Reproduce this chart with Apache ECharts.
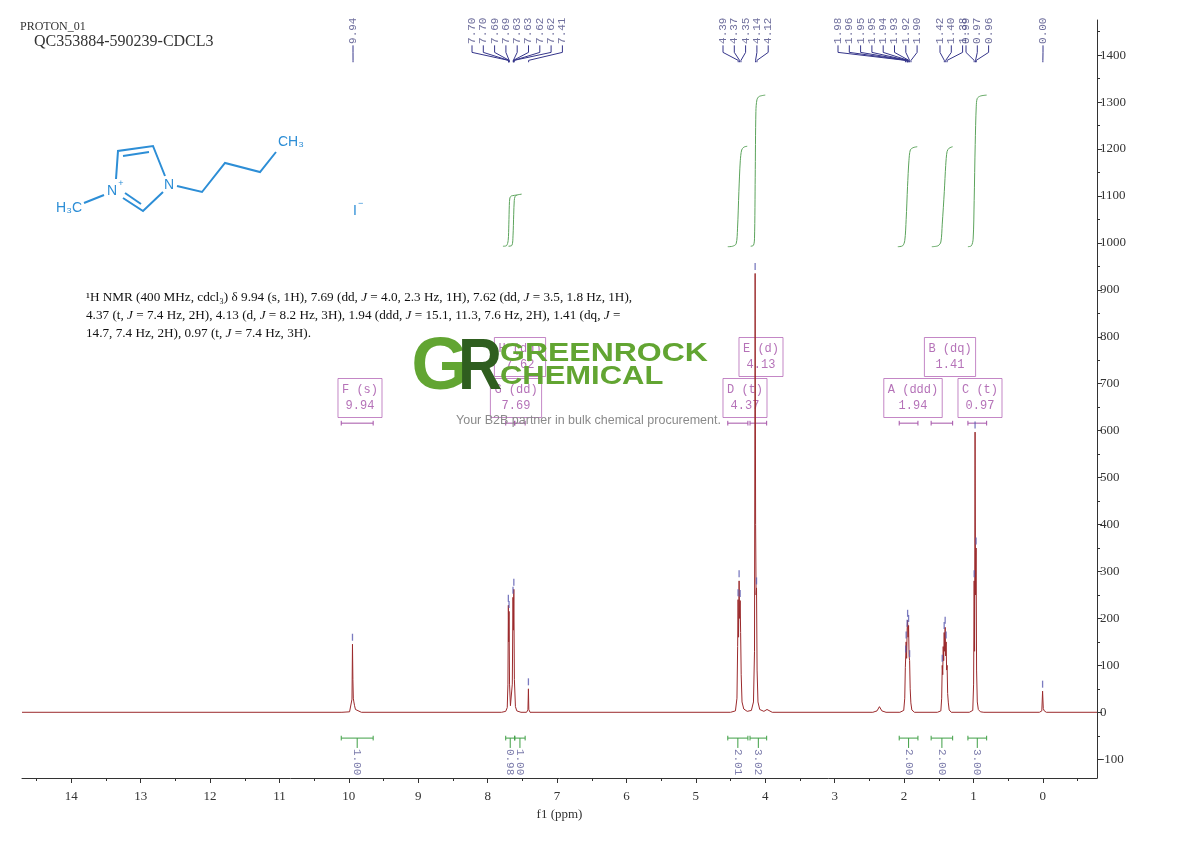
<!DOCTYPE html>
<html><head><meta charset="utf-8">
<script src="https://cdn.jsdelivr.net/npm/echarts@6/dist/echarts.min.js"></script>
<style>html,body{margin:0;padding:0;background:#fff}#c{width:1190px;height:841px}</style>
</head><body><div id="c"></div>
<script>
// ---------------- DATA ----------------
const xTickValues = [0,1,2,3,4,5,6,7,8,9,10,11,12,13,14];
const xMinorTickValues = [-0.5,0.5,1.5,2.5,3.5,4.5,5.5,6.5,7.5,8.5,9.5,10.5,11.5,12.5,13.5,14.5];
const yTickValues = [-100,0,100,200,300,400,500,600,700,800,900,1000,1100,1200,1300,1400];
const yMinorTickValues = [-50,50,150,250,350,450,550,650,750,850,950,1050,1150,1250,1350,1450];

// spectrum trace [ppm, intensity]
const spectrum = [
 [14.71,0],[10.10,0],[9.99,1],[9.965,5],[9.955,28],[9.948,145],[9.942,70],[9.936,30],[9.928,22],[9.918,14],[9.905,6],[9.88,2],[9.82,0],
 [7.80,0],[7.74,2],[7.718,10],[7.708,60],[7.702,228],[7.697,150],[7.692,215],[7.685,60],[7.672,14],[7.66,14],[7.645,60],[7.635,245],[7.629,175],[7.623,262],[7.615,70],[7.60,12],[7.58,3],[7.52,0],
 [7.44,0],[7.42,5],[7.413,50],[7.407,6],[7.39,0],
 [4.50,0],[4.43,3],[4.408,30],[4.398,140],[4.392,240],[4.385,160],[4.377,280],[4.37,200],[4.362,238],[4.355,170],[4.347,80],[4.335,22],[4.31,7],[4.26,2],[4.20,4],[4.17,22],[4.155,130],[4.146,935],[4.139,400],[4.132,250],[4.126,265],[4.118,90],[4.105,22],[4.08,6],[4.02,2],[3.975,6],[3.96,2],[3.90,0],
 [2.45,0],[2.39,3],[2.355,12],[2.32,3],[2.26,0],
 [2.06,0],[2.005,4],[1.99,30],[1.982,95],[1.976,120],[1.97,150],[1.963,115],[1.956,175],[1.949,196],[1.942,160],[1.935,185],[1.928,120],[1.92,110],[1.912,50],[1.902,20],[1.888,5],[1.85,0],
 [1.52,0],[1.47,3],[1.458,30],[1.45,100],[1.443,80],[1.436,140],[1.429,110],[1.422,170],[1.415,130],[1.408,181],[1.401,120],[1.394,150],[1.387,90],[1.38,100],[1.372,40],[1.362,20],[1.35,5],[1.32,0],
 [1.06,0],[1.01,4],[0.998,60],[0.99,280],[0.984,130],[0.977,597],[0.97,250],[0.962,350],[0.955,90],[0.945,22],[0.93,6],[0.90,1],[0.85,0],
 [0.05,0],[0.015,3],[0.004,45],[-0.006,8],[-0.02,3],[-0.05,0],[-0.78,0]
];

// picked peak tops (markers)
const pickMarkers = [[9.948,145],[7.702,228],[7.692,215],[7.635,245],[7.623,262],[7.413,50],
 [4.392,240],[4.377,280],[4.362,238],[4.146,935],[4.126,265],
 [1.976,120],[1.97,150],[1.956,175],[1.949,196],[1.935,185],[1.92,110],
 [1.45,100],[1.422,170],[1.408,181],[1.394,150],[0.99,280],[0.977,597],[0.962,350],[0.004,45]];

// peak-pick label groups (ppm)
const pickGroup1 = [9.94];
const pickGroup2 = [7.70,7.70,7.69,7.69,7.63,7.63,7.62,7.62,7.41];
const pickGroup3 = [4.39,4.37,4.35,4.14,4.12];
const pickGroup4 = [1.98,1.96,1.95,1.95,1.94,1.93,1.92,1.90];
const pickGroup5 = [1.42,1.40,1.38];
const pickGroup6 = [0.99,0.97,0.96];
const pickGroup7 = [0.00];

// integral curves [ppm, offset value]
const integral769 = [[7.78,993],[7.73,994],[7.705,1005],[7.695,1040],[7.688,1080],[7.68,1096],[7.66,1100],[7.58,1102]];
const integral762 = [[7.70,993],[7.65,995],[7.635,1015],[7.625,1060],[7.617,1090],[7.605,1099],[7.58,1102],[7.51,1104]];
const integral437 = [[4.54,992],[4.47,993],[4.42,998],[4.40,1030],[4.38,1110],[4.36,1175],[4.34,1198],[4.31,1204],[4.26,1206]];
const integral413 = [[4.21,993],[4.17,995],[4.155,1010],[4.145,1140],[4.135,1280],[4.12,1305],[4.09,1312],[4.00,1315]];
const integral194 = [[2.09,992],[2.02,994],[1.99,1005],[1.97,1050],[1.95,1120],[1.93,1175],[1.91,1198],[1.87,1203],[1.81,1205]];
const integral141 = [[1.60,992],[1.51,994],[1.47,1002],[1.45,1040],[1.42,1110],[1.40,1165],[1.38,1195],[1.35,1202],[1.30,1205]];
const integral097 = [[1.08,992],[1.03,994],[1.005,1008],[0.99,1090],[0.975,1210],[0.96,1290],[0.945,1308],[0.90,1313],[0.81,1315]];

// integration ranges and values
const integrationRanges = [[10.11,9.65],[7.74,7.61],[7.61,7.46],[4.54,4.25],[4.22,3.98],[2.07,1.80],[1.61,1.30],[1.08,0.81]];
const integrationValues = ['1.00','0.98','1.00','2.01','3.02','2.00','2.00','3.00'];

// multiplet annotations
const multipletLetters = ['F','G','H','D','E','A','B','C'];
const multipletTypes = ['s','dd','dd','t','d','ddd','dq','t'];
const multipletShifts = ['9.94','7.69','7.62','4.37','4.13','1.94','1.41','0.97'];

// ---------------- LAYOUT ----------------
const X_MIN=-0.78, X_MAX=14.71, Y_MIN=-140, Y_MAX=1475;
const G_L=22, G_R=93, G_T=20, G_B=63, W=1190, H=841;
const GW=W-G_L-G_R, GH=H-G_T-G_B;
const px2ppm = px => X_MAX - (px-G_L)*(X_MAX-X_MIN)/GW;
const py2val = py => Y_MAX - (py-G_T)*(Y_MAX-Y_MIN)/GH;

const pickGroups = [pickGroup1,pickGroup2,pickGroup3,pickGroup4,pickGroup5,pickGroup6,pickGroup7];
const groupStartPx = [353,472,723,838,940,966,1043];
const labelStepPx = 11.3;
const multipletBoxPx = [[360,398],[516,398],[520,357],[745,398],[761,357],[913,398],[950,357],[980,398]];

const treeLines=[], topLabels=[];
pickGroups.forEach((g,gi)=>{
  g.forEach((p,i)=>{
    const lx = px2ppm(groupStartPx[gi] + i*labelStepPx);
    topLabels.push({value:[lx,1424], name:p.toFixed(2)});
    treeLines.push({coords:[[lx,1421],[lx,1406],[p,1389],[p,1385]]});
  });
});

const bracketLines=[], purpleBars=[], intLabels=[];
integrationRanges.forEach((r,i)=>{
  const c=(r[0]+r[1])/2;
  bracketLines.push({coords:[[r[0],-55],[r[1],-55]]});
  bracketLines.push({coords:[[r[0],-50],[r[0],-60]]});
  bracketLines.push({coords:[[r[1],-50],[r[1],-60]]});
  bracketLines.push({coords:[[c,-55],[c,-76]]});
  intLabels.push({value:[c,-78], name:integrationValues[i]});
  purpleBars.push({coords:[[r[0],616],[r[1],616]]});
  purpleBars.push({coords:[[r[0],611],[r[0],621]]});
  purpleBars.push({coords:[[r[1],611],[r[1],621]]});
});

const boxes = multipletLetters.map((l,i)=>({
  value:[px2ppm(multipletBoxPx[i][0]), py2val(multipletBoxPx[i][1])],
  name: l+' ('+multipletTypes[i]+')\n'+multipletShifts[i]
}));

const integralCurves=[integral769,integral762,integral437,integral413,integral194,integral141,integral097];

const SERIF='"Liberation Serif","DejaVu Serif",serif';
const MONO='"Liberation Mono","DejaVu Sans Mono",monospace';
const BLUE='#2d8ed6';

const series=[];
series.push({type:'scatter', data:boxes, symbolSize:1, itemStyle:{color:'rgba(0,0,0,0)'}, z:2, silent:true,
  label:{show:true, position:'inside', formatter:'{b}', color:'#a24fa6', fontFamily:MONO, fontSize:12, lineHeight:16,
    borderColor:'#b569b8', borderWidth:1, padding:[4,4,3,4], align:'center', verticalAlign:'middle'}});
series.push({type:'lines', coordinateSystem:'cartesian2d', polyline:true, data:purpleBars, z:2, silent:true,
  lineStyle:{color:'#a552a8', width:1, opacity:1}});
integralCurves.forEach(d=>series.push({type:'line', data:d, showSymbol:false, smooth:0.3, z:3, silent:true,
  lineStyle:{color:'#5ba35b', width:1}}));
series.push({type:'lines', coordinateSystem:'cartesian2d', polyline:true, data:bracketLines, z:3, silent:true,
  lineStyle:{color:'#3f9f45', width:1, opacity:1}});
series.push({type:'scatter', data:intLabels, symbolSize:1, itemStyle:{color:'rgba(0,0,0,0)'}, silent:true,
  label:{show:true, position:'inside', formatter:'{b}', rotate:-90, align:'left', verticalAlign:'middle',
    color:'#5a5a96', fontFamily:MONO, fontSize:11}});
series.push({type:'lines', coordinateSystem:'cartesian2d', polyline:true, data:treeLines, z:3, silent:true,
  lineStyle:{color:'#35358a', width:1, opacity:1}});
series.push({type:'scatter', data:topLabels, symbolSize:1, itemStyle:{color:'rgba(0,0,0,0)'}, silent:true,
  label:{show:true, position:'inside', formatter:'{b}', rotate:90, align:'left', verticalAlign:'middle',
    color:'#4b4b85', fontFamily:MONO, fontSize:11}});
series.push({type:'line', data:spectrum, showSymbol:false, z:5, silent:true,
  lineStyle:{color:'#9b2a2c', width:1}});
series.push({type:'scatter', data:pickMarkers, symbol:'rect', symbolSize:[1.3,7], symbolOffset:[0,-7], z:6, silent:true,
  itemStyle:{color:'#5a5ab0'}});

const axisLineStyle={color:'#333', width:1};
const plain = v => String(Math.round(v));
const option={
  animation:false,
  grid:{left:G_L, right:G_R, top:G_T, bottom:G_B},
  xAxis:[
    {type:'value', min:X_MIN, max:X_MAX, inverse:true, position:'bottom', offset:0,
     axisLine:{show:true, onZero:false, lineStyle:axisLineStyle},
     axisTick:{show:true, customValues:xTickValues, length:5, lineStyle:axisLineStyle},
     axisLabel:{show:true, customValues:xTickValues, formatter:plain, color:'#333', fontFamily:SERIF, fontSize:13, margin:12},
     splitLine:{show:false},
     name:'f1 (ppm)', nameLocation:'middle', nameGap:27, nameTextStyle:{color:'#333', fontFamily:SERIF, fontSize:13}},
    {type:'value', min:X_MIN, max:X_MAX, inverse:true, position:'bottom', offset:0,
     axisLine:{show:false, onZero:false},
     axisTick:{show:true, customValues:xMinorTickValues, length:3, lineStyle:axisLineStyle},
     axisLabel:{show:false}, splitLine:{show:false}}
  ],
  yAxis:[
    {type:'value', min:Y_MIN, max:Y_MAX, position:'right', offset:0,
     axisLine:{show:true, onZero:false, lineStyle:axisLineStyle},
     axisTick:{show:true, customValues:yTickValues, length:5, lineStyle:axisLineStyle},
     axisLabel:{show:true, customValues:yTickValues, formatter:plain, color:'#333', fontFamily:SERIF, fontSize:13, margin:3},
     splitLine:{show:false}},
    {type:'value', min:Y_MIN, max:Y_MAX, position:'right', offset:0,
     axisLine:{show:false, onZero:false},
     axisTick:{show:true, customValues:yMinorTickValues, length:3, lineStyle:axisLineStyle},
     axisLabel:{show:false}, splitLine:{show:false}}
  ],
  series:series,
  graphic:[
    {type:'text', x:20, y:27, style:{text:'PROTON_01', font:'12px '+SERIF, fill:'#333', textAlign:'left', textVerticalAlign:'middle', align:'left', verticalAlign:'middle'}},
    {type:'text', x:34, y:42, style:{text:'QC353884-590239-CDCL3', font:'16px '+SERIF, fill:'#333', textAlign:'left', textVerticalAlign:'middle', align:'left', verticalAlign:'middle'}},
    // molecule
    {type:'polyline', shape:{points:[[116,179],[118,151],[153,146],[165,176]]}, style:{stroke:BLUE, lineWidth:2, fill:null}},
    {type:'polyline', shape:{points:[[123,156],[149,152]]}, style:{stroke:BLUE, lineWidth:2, fill:null}},
    {type:'polyline', shape:{points:[[163,192],[143,211],[123,198]]}, style:{stroke:BLUE, lineWidth:2, fill:null}},
    {type:'polyline', shape:{points:[[141,204],[125,193]]}, style:{stroke:BLUE, lineWidth:2, fill:null}},
    {type:'polyline', shape:{points:[[84,203],[104,195]]}, style:{stroke:BLUE, lineWidth:2, fill:null}},
    {type:'polyline', shape:{points:[[177,186],[202,192],[225,163],[260,172],[276,152]]}, style:{stroke:BLUE, lineWidth:2, fill:null}},
    {type:'text', x:169, y:185, style:{text:'N', font:'14px "Liberation Sans",Arial,sans-serif', fill:BLUE, textAlign:'center', textVerticalAlign:'middle', align:'center', verticalAlign:'middle'}},
    {type:'text', x:112, y:191, style:{text:'N', font:'14px "Liberation Sans",Arial,sans-serif', fill:BLUE, textAlign:'center', textVerticalAlign:'middle', align:'center', verticalAlign:'middle'}},
    {type:'text', x:121, y:184, style:{text:'+', font:'9px "Liberation Sans",Arial,sans-serif', fill:BLUE, textAlign:'center', textVerticalAlign:'middle', align:'center', verticalAlign:'middle'}},
    {type:'text', x:82, y:208, style:{text:'H₃C', font:'14px "Liberation Sans",Arial,sans-serif', fill:BLUE, textAlign:'right', textVerticalAlign:'middle', align:'right', verticalAlign:'middle'}},
    {type:'text', x:278, y:142, style:{text:'CH₃', font:'14px "Liberation Sans",Arial,sans-serif', fill:BLUE, textAlign:'left', textVerticalAlign:'middle', align:'left', verticalAlign:'middle'}},
    {type:'text', x:353, y:211, style:{text:'I', font:'14px "Liberation Sans",Arial,sans-serif', fill:BLUE, textAlign:'left', textVerticalAlign:'middle', align:'left', verticalAlign:'middle'}},
    {type:'text', x:358, y:204, style:{text:'−', font:'9px "Liberation Sans",Arial,sans-serif', fill:BLUE, textAlign:'left', textVerticalAlign:'middle', align:'left', verticalAlign:'middle'}},
    // description
    {type:'text', x:86, y:298, style:{text:'¹H NMR (400 MHz, cdcl₃) δ 9.94 (s, 1H), 7.69 (dd, {i|J} = 4.0, 2.3 Hz, 1H), 7.62 (dd, {i|J} = 3.5, 1.8 Hz, 1H),', font:'13.2px '+SERIF, fill:'#111', rich:{i:{fontStyle:'italic', fontFamily:SERIF, fontSize:13.2, fill:'#111'}}, textAlign:'left', textVerticalAlign:'middle', align:'left', verticalAlign:'middle'}},
    {type:'text', x:86, y:316, style:{text:'4.37 (t, {i|J} = 7.4 Hz, 2H), 4.13 (d, {i|J} = 8.2 Hz, 3H), 1.94 (ddd, {i|J} = 15.1, 11.3, 7.6 Hz, 2H), 1.41 (dq, {i|J} =', font:'13.2px '+SERIF, fill:'#111', rich:{i:{fontStyle:'italic', fontFamily:SERIF, fontSize:13.2, fill:'#111'}}, textAlign:'left', textVerticalAlign:'middle', align:'left', verticalAlign:'middle'}},
    {type:'text', x:86, y:334, style:{text:'14.7, 7.4 Hz, 2H), 0.97 (t, {i|J} = 7.4 Hz, 3H).', font:'13.2px '+SERIF, fill:'#111', rich:{i:{fontStyle:'italic', fontFamily:SERIF, fontSize:13.2, fill:'#111'}}, textAlign:'left', textVerticalAlign:'middle', align:'left', verticalAlign:'middle'}},
    // watermark logo
    {type:'text', x:440, y:369, z:100, style:{text:'G', font:'bold 74px "Liberation Sans",Arial,sans-serif', fill:'#62a532', textAlign:'center', textVerticalAlign:'middle', align:'center', verticalAlign:'middle'}},
    {type:'text', x:480, y:369, z:100, scaleX:0.85, style:{text:'R', font:'bold 72px "Liberation Sans",Arial,sans-serif', fill:'#2f5e1f', textAlign:'center', textVerticalAlign:'middle', align:'center', verticalAlign:'middle'}},
    {type:'text', x:500, y:354, z:100, scaleX:1.23, style:{text:'GREENROCK', font:'bold 26px "Liberation Sans",Arial,sans-serif', fill:'#62a532', textAlign:'left', textVerticalAlign:'middle', align:'left', verticalAlign:'middle'}},
    {type:'text', x:500, y:377, z:100, scaleX:1.19, style:{text:'CHEMICAL', font:'bold 26px "Liberation Sans",Arial,sans-serif', fill:'#62a532', textAlign:'left', textVerticalAlign:'middle', align:'left', verticalAlign:'middle'}},
    {type:'text', x:456, y:421, z:100, style:{text:'Your B2B partner in bulk chemical procurement.', font:'12.5px "Liberation Sans",Arial,sans-serif', fill:'#8a8a8a', textAlign:'left', textVerticalAlign:'middle', align:'left', verticalAlign:'middle'}}
  ]
};
const chart=echarts.init(document.getElementById('c'), null, {renderer:'canvas'});
chart.setOption(option);
</script></body></html>
